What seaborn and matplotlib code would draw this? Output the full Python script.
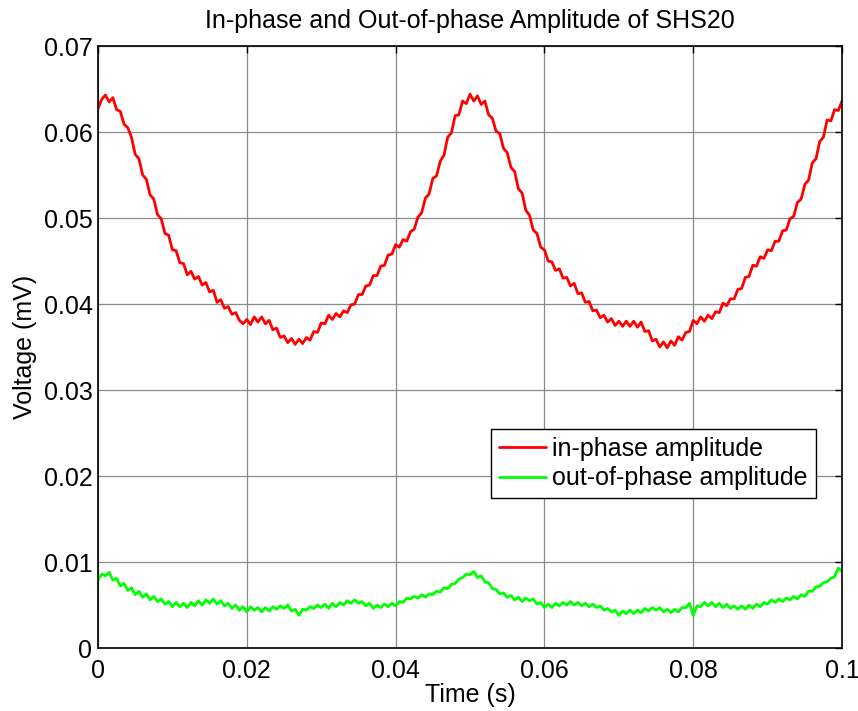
import matplotlib
matplotlib.use("Agg")
import matplotlib.pyplot as plt
import seaborn as sns
import pandas as pd
import numpy as np

# time axis (s), sampled every 0.5 ms
time_s = [round(i * 0.0005, 4) for i in range(201)]

# in-phase amplitude (mV)
in_phase = [
    0.0627, 0.0638, 0.0643, 0.0635, 0.0640, 0.0626, 0.0624, 0.0609, 0.0605, 0.0594,
    0.0574, 0.0569, 0.0550, 0.0545, 0.0527, 0.0522, 0.0504, 0.0499, 0.0482, 0.0480,
    0.0463, 0.0462, 0.0448, 0.0447, 0.0434, 0.0438, 0.0429, 0.0432, 0.0422, 0.0425,
    0.0414, 0.0416, 0.0402, 0.0405, 0.0395, 0.0397, 0.0388, 0.0390, 0.0381, 0.0377,
    0.0382, 0.0376, 0.0385, 0.0379, 0.0385, 0.0377, 0.0381, 0.0370, 0.0372, 0.0361,
    0.0363, 0.0355, 0.0360, 0.0353, 0.0359, 0.0354, 0.0361, 0.0358, 0.0368, 0.0367,
    0.0378, 0.0377, 0.0387, 0.0382, 0.0389, 0.0385, 0.0392, 0.0390, 0.0399, 0.0400,
    0.0411, 0.0411, 0.0421, 0.0422, 0.0433, 0.0433, 0.0444, 0.0445, 0.0457, 0.0458,
    0.0469, 0.0466, 0.0475, 0.0473, 0.0484, 0.0487, 0.0501, 0.0506, 0.0523, 0.0528,
    0.0546, 0.0549, 0.0566, 0.0573, 0.0594, 0.0599, 0.0619, 0.0620, 0.0636, 0.0633,
    0.0644, 0.0636, 0.0642, 0.0632, 0.0636, 0.0620, 0.0616, 0.0601, 0.0598, 0.0581,
    0.0576, 0.0559, 0.0554, 0.0534, 0.0529, 0.0509, 0.0503, 0.0486, 0.0482, 0.0466,
    0.0463, 0.0450, 0.0449, 0.0439, 0.0441, 0.0430, 0.0431, 0.0421, 0.0424, 0.0412,
    0.0413, 0.0402, 0.0403, 0.0392, 0.0393, 0.0384, 0.0387, 0.0379, 0.0383, 0.0375,
    0.0380, 0.0374, 0.0380, 0.0374, 0.0380, 0.0373, 0.0379, 0.0368, 0.0369, 0.0357,
    0.0359, 0.0350, 0.0356, 0.0349, 0.0357, 0.0352, 0.0362, 0.0358, 0.0367, 0.0368,
    0.0381, 0.0377, 0.0385, 0.0380, 0.0387, 0.0383, 0.0391, 0.0390, 0.0401, 0.0398,
    0.0406, 0.0406, 0.0417, 0.0418, 0.0431, 0.0432, 0.0445, 0.0444, 0.0455, 0.0453,
    0.0463, 0.0462, 0.0473, 0.0473, 0.0485, 0.0486, 0.0499, 0.0502, 0.0518, 0.0522,
    0.0539, 0.0544, 0.0564, 0.0569, 0.0589, 0.0594, 0.0614, 0.0613, 0.0626, 0.0625,
    0.0636,
]

# out-of-phase amplitude (mV)
out_phase = [
    0.0079, 0.0086, 0.0084, 0.0088, 0.0079, 0.0081, 0.0072, 0.0075, 0.0067, 0.0070,
    0.0062, 0.0066, 0.0059, 0.0063, 0.0056, 0.0060, 0.0054, 0.0057, 0.0051, 0.0054,
    0.0048, 0.0053, 0.0048, 0.0052, 0.0047, 0.0053, 0.0049, 0.0055, 0.0050, 0.0056,
    0.0052, 0.0057, 0.0051, 0.0055, 0.0049, 0.0052, 0.0046, 0.0050, 0.0044, 0.0048,
    0.0042, 0.0048, 0.0044, 0.0047, 0.0042, 0.0047, 0.0043, 0.0048, 0.0045, 0.0049,
    0.0046, 0.0050, 0.0043, 0.0045, 0.0038, 0.0045, 0.0044, 0.0048, 0.0046, 0.0050,
    0.0047, 0.0051, 0.0046, 0.0052, 0.0048, 0.0053, 0.0050, 0.0055, 0.0052, 0.0056,
    0.0052, 0.0054, 0.0049, 0.0052, 0.0046, 0.0050, 0.0047, 0.0051, 0.0048, 0.0052,
    0.0049, 0.0054, 0.0053, 0.0058, 0.0057, 0.0060, 0.0058, 0.0062, 0.0059, 0.0063,
    0.0062, 0.0066, 0.0065, 0.0070, 0.0069, 0.0074, 0.0075, 0.0080, 0.0082, 0.0086,
    0.0085, 0.0089, 0.0082, 0.0084, 0.0077, 0.0076, 0.0069, 0.0068, 0.0063, 0.0064,
    0.0059, 0.0061, 0.0056, 0.0059, 0.0054, 0.0058, 0.0055, 0.0057, 0.0051, 0.0053,
    0.0047, 0.0051, 0.0047, 0.0052, 0.0049, 0.0053, 0.0050, 0.0054, 0.0050, 0.0053,
    0.0049, 0.0052, 0.0048, 0.0051, 0.0047, 0.0049, 0.0044, 0.0046, 0.0042, 0.0044,
    0.0038, 0.0043, 0.0040, 0.0044, 0.0040, 0.0044, 0.0041, 0.0046, 0.0043, 0.0047,
    0.0044, 0.0047, 0.0042, 0.0045, 0.0041, 0.0045, 0.0042, 0.0047, 0.0047, 0.0052,
    0.0038, 0.0049, 0.0048, 0.0053, 0.0049, 0.0053, 0.0048, 0.0052, 0.0047, 0.0051,
    0.0046, 0.0049, 0.0045, 0.0049, 0.0045, 0.0050, 0.0046, 0.0051, 0.0048, 0.0053,
    0.0051, 0.0056, 0.0053, 0.0057, 0.0054, 0.0058, 0.0056, 0.0060, 0.0057, 0.0062,
    0.0060, 0.0066, 0.0066, 0.0071, 0.0072, 0.0076, 0.0077, 0.0081, 0.0083, 0.0093,
    0.0089,
]

series_names = ["in-phase amplitude", "out-of-phase amplitude"]
x_ticks = [0, 0.02, 0.04, 0.06, 0.08, 0.1]
x_tick_labels = ["0", "0.02", "0.04", "0.06", "0.08", "0.1"]
y_ticks = [0, 0.01, 0.02, 0.03, 0.04, 0.05, 0.06, 0.07]
y_tick_labels = ["0", "0.01", "0.02", "0.03", "0.04", "0.05", "0.06", "0.07"]

df = pd.DataFrame({
    "t": time_s * 2,
    "v": in_phase + out_phase,
    "series": [series_names[0]] * len(time_s) + [series_names[1]] * len(time_s),
})

sns.set_style("white")
plt.rcParams["font.family"] = ["Liberation Sans", "DejaVu Sans"]
plt.rcParams["text.color"] = "black"
plt.rcParams["axes.labelcolor"] = "black"
FS = 18

fig = plt.figure(figsize=(8.58, 7.11), dpi=100)
ax = fig.add_axes([0.1142, 0.0886, 0.8672, 0.8467])

sns.lineplot(data=df, x="t", y="v", hue="series", ax=ax,
             palette={series_names[0]: "#ff0000", series_names[1]: "#00ff00"},
             linewidth=2.0, estimator=None, sort=False)

ax.set_xlim(0, 0.1)
ax.set_ylim(0, 0.07)
ax.set_xticks(x_ticks)
ax.set_xticklabels(x_tick_labels)
ax.set_yticks(y_ticks)
ax.set_yticklabels(y_tick_labels)
ax.grid(True, color="#8a8a8a", linewidth=0.9, linestyle="-")
ax.set_axisbelow(True)
ax.tick_params(axis="both", which="both", direction="in", length=5, width=1,
               top=True, right=True, labelsize=FS, colors="black", pad=4)
ax.tick_params(axis="x", pad=8)
for sp in ax.spines.values():
    sp.set_visible(True)
    sp.set_color("black")
    sp.set_linewidth(1.2)

ax.set_title("In-phase and Out-of-phase Amplitude of SHS20", fontsize=FS, pad=13,
             color="black")
ax.set_xlabel("Time (s)", fontsize=FS, labelpad=0, color="black")
ax.set_ylabel("Voltage (mV)", fontsize=FS, labelpad=5, color="black")

leg = ax.legend(loc="upper right", bbox_to_anchor=(0.965, 0.364), fontsize=FS,
                frameon=True, fancybox=False, shadow=False, framealpha=1,
                edgecolor="black", handlelength=1.9, handletextpad=0.25,
                labelspacing=0.22, borderpad=0.32, borderaxespad=0)
leg.get_frame().set_linewidth(1.0)
for line in leg.get_lines():
    line.set_linewidth(2.0)
for txt in leg.get_texts():
    txt.set_color("black")

fig.savefig("out.png", dpi=100)
